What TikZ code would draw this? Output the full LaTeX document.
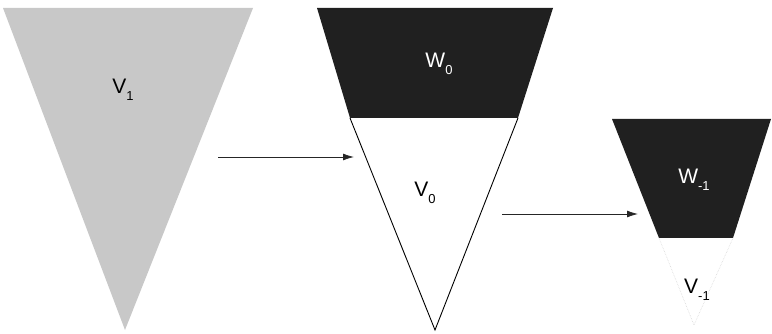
\documentclass[tikz,border=0pt]{standalone}
\usepackage{fontspec}
\setmainfont{Liberation Sans}
\usetikzlibrary{arrows.meta}
\definecolor{lightfill}{RGB}{200,200,200}
\definecolor{darkfill}{RGB}{32,32,32}
\definecolor{faint}{RGB}{215,215,215}
\newcommand{\sublab}[2]{#1\raisebox{-0.33em}{\fontsize{13}{13}\selectfont #2}}
\begin{document}
\begin{tikzpicture}[x=1pt,y=-1pt,
  lab/.style={inner sep=0pt,font=\fontsize{21}{21}\selectfont},
  conn/.style={line width=0.8pt,draw=black!85,-{Latex[length=11pt,width=7pt]}},
  edge/.style={line width=0.9pt,draw=black}]
\useasboundingbox (0,0) rectangle (772,334);
% first: gray triangle
\coordinate (a1) at (3,8);
\coordinate (a2) at (253,8);
\coordinate (a3) at (125,330);
\fill[lightfill] (a1) -- (a2) -- (a3) -- cycle;
\node[lab] (v1) at (123,90) {\sublab{V}{1}};
% second
\coordinate (b1) at (317,8);
\coordinate (b2) at (553,8);
\coordinate (b3) at (518,118);
\coordinate (b4) at (350,118);
\coordinate (b5) at (435,330);
\fill[darkfill] (b1) -- (b2) -- (b3) -- (b4) -- cycle;
\draw[edge] (b4) -- (b5) -- (b3);
\node[lab,text=white] (w0) at (439,64) {\sublab{W}{0}};
\node[lab] (v0) at (425,193) {\sublab{V}{0}};
% third
\coordinate (c1) at (612,119);
\coordinate (c2) at (771,119);
\coordinate (c3) at (733,238);
\coordinate (c4) at (659,238);
\coordinate (c5) at (694,325);
\fill[darkfill] (c1) -- (c2) -- (c3) -- (c4) -- cycle;
\draw[faint,densely dotted,line width=0.6pt] (c4) -- (c5) -- (c3);
\node[lab,text=white] (w1) at (694,180) {\sublab{W}{-1}};
\node[lab] (vm1) at (697,290) {\sublab{V}{-1}};
% arrows
\coordinate (p1) at (218,157);
\coordinate (q1) at (354,157);
\coordinate (p2) at (502,214);
\coordinate (q2) at (638,214);
\draw[conn] (p1) -- (q1);
\draw[conn] (p2) -- (q2);
\end{tikzpicture}
\end{document}
